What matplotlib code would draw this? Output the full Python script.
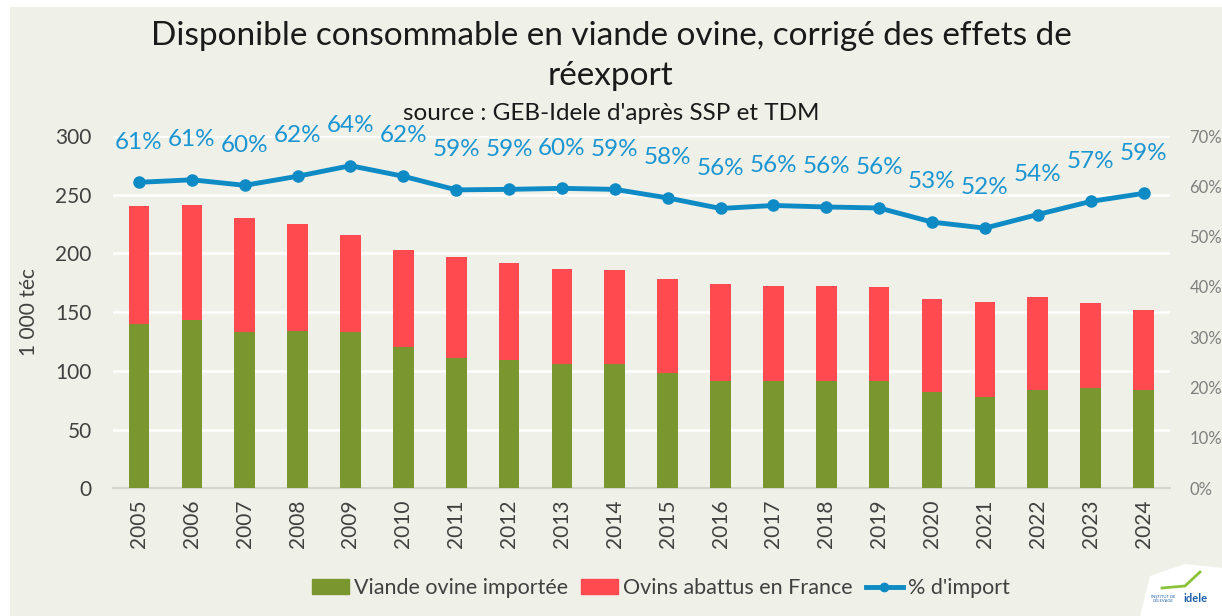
import numpy as np
import matplotlib.pyplot as plt
from matplotlib.patches import Rectangle, Polygon, Patch
from matplotlib.lines import Line2D

plt.rcParams['font.family'] = ['Lato', 'DejaVu Sans']

# données
annees = [str(a) for a in range(2005, 2025)]
importee = [140, 143, 133, 134, 133, 120, 111, 109, 106, 106, 98, 91, 91, 91, 91, 82, 78, 84, 85, 84]
france = [100, 98, 97, 91, 83, 83, 86, 82.5, 80.5, 80, 80, 83, 81, 81, 80, 79, 81, 78.5, 73, 68]
pct_import = [60.8, 61.3, 60.2, 62.0, 64.1, 62.0, 59.3, 59.4, 59.6, 59.4, 57.7, 55.6, 56.2, 55.9, 55.7, 52.9, 51.7, 54.4, 57.0, 58.6]

vert = '#7a962e'
rouge = '#ff4b50'
bleu = '#0e8bc5'
bleu_txt = '#1a95d2'
fond = '#eff0e8'

fig = plt.figure(figsize=(12.22, 6.16), dpi=100, facecolor='white')
fig.patches.append(Rectangle((10/1222, 0), 1, 1 - 7/616, transform=fig.transFigure,
                             facecolor=fond, edgecolor='none', zorder=-10))
# logo en bas à droite (forme blanche)
fig.patches.append(Polygon([(1140/1222, 0), (1150/1222, 40/616), (1185/1222, 52/616),
                            (1222/1222, 48/616), (1222/1222, 0)], closed=True,
                           transform=fig.transFigure, facecolor='white', edgecolor='none'))
fig.text(1196/1222, 17/616, 'idele', ha='center', va='center', fontsize=8,
         fontweight='bold', color='#1b5fa8')
fig.text(1163/1222, 17/616, 'INSTITUT DE\nL\'ÉLEVAGE', ha='center', va='center', fontsize=3,
         color='#1b5fa8', linespacing=0.9)
fig.lines.append(Line2D([1162/1222, 1185/1222, 1200/1222], [28/616, 30/616, 44/616],
                        transform=fig.transFigure, color='#8ac23a', linewidth=2))

ax = fig.add_axes([0.0921, 0.2073, 0.8653, 0.5719])
ax.patch.set_alpha(0)
x = np.arange(len(annees))
ax.bar(x, importee, width=0.39, color=vert, zorder=3, label='Viande ovine importée')
ax.bar(x, france, width=0.39, bottom=importee, color=rouge, zorder=3, label='Ovins abattus en France')
ax.set_ylim(0, 300)
ax.set_xlim(-0.5, len(annees) - 0.5)
ax.set_yticks(range(0, 301, 50))
ax.yaxis.grid(True, color='white', linewidth=1.8, zorder=0)
ax.set_axisbelow(True)
for s in ['top', 'right', 'left']:
    ax.spines[s].set_visible(False)
ax.spines['bottom'].set_color('#d4d4d0')
ax.spines['bottom'].set_linewidth(1.5)
ax.set_xticks(x)
ax.set_xticklabels(annees, rotation=90, fontsize=15, color='#404040')
ax.tick_params(axis='x', length=0, pad=8)
ax.tick_params(axis='y', length=0, labelsize=15, labelcolor='#404040', pad=15)
ax.set_ylabel('1 000 téc', fontsize=15, color='#404040', labelpad=12)

ax2 = ax.twinx()
ax2.plot(x, pct_import, color=bleu, linewidth=3.5, marker='o', markersize=8, zorder=5,
         label="% d'import")
ax2.set_ylim(0, 70)
ax2.set_yticks(range(0, 71, 10))
ax2.set_yticklabels([f'{v}%' for v in range(0, 71, 10)])
ax2.tick_params(axis='y', length=0, labelsize=12, labelcolor='#7f7f7f', pad=14)
for s in ax2.spines.values():
    s.set_visible(False)
for xi, p in zip(x, pct_import):
    ax2.annotate(f'{p:.0f}%', (xi, p), xytext=(0, 29), textcoords='offset points',
                 ha='center', va='center', fontsize=17.5, color=bleu_txt)

fig.text(0.5, 0.942, 'Disponible consommable en viande ovine, corrigé des effets de',
         ha='center', va='center', fontsize=24, color='#1a1a1a')
fig.text(0.5, 0.876, 'réexport', ha='center', va='center', fontsize=24, color='#1a1a1a')
fig.text(0.5, 0.815, "source : GEB-Idele d'après SSP et TDM", ha='center', va='center',
         fontsize=17.5, color='#1a1a1a')

handles = [Patch(color=vert), Patch(color=rouge),
           Line2D([], [], color=bleu, linewidth=3.5, marker='o', markersize=6)]
labels = ['Viande ovine importée', 'Ovins abattus en France', "% d'import"]
fig.legend(handles, labels, loc='center', bbox_to_anchor=(0.541, 0.045), ncol=3, frameon=False,
           fontsize=15.5, handlelength=1.7, handletextpad=0.25, columnspacing=0.6,
           labelcolor='#404040')

fig.savefig('out.png', dpi=100, facecolor='white')
